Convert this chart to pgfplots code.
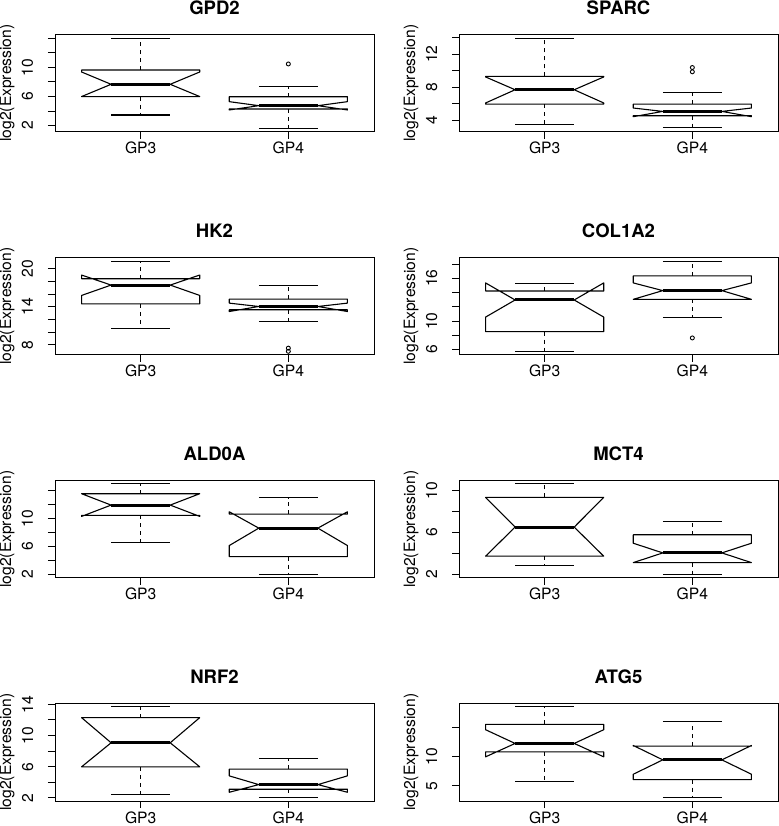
\documentclass[border=0pt]{standalone}
\usepackage{fontspec}
\setmainfont{TeX Gyre Heros}
\usepackage{pgfplots}
\pgfplotsset{compat=1.18}

\pgfplotsset{
  panel/.style={
    scale only axis, width=319bp, height=97.7bp,
    xmin=0.42, xmax=2.58, xtick={1,2}, xticklabels={GP3,GP4},
    xtick pos=bottom, ytick pos=left,
    tick align=outside, major tick length=7bp,
    every tick/.style={black, line width=1bp},
    axis line style={line width=1bp},
    ylabel={log2(Expression)},
    ylabel style={at={(axis description cs:-0.150,0.5)}, anchor=center, font=\fontsize{15.7}{17}\selectfont},
    tick label style={font=\fontsize{15.7}{17}\selectfont},
    xticklabel style={anchor=base, inner sep=0pt, yshift=-15bp},
    yticklabel style={anchor=base, xshift=-15bp, rotate=90},
    title style={font=\bfseries\fontsize{18.6}{20}\selectfont, at={(axis description cs:0.5,1)}, anchor=base, yshift=14bp},
    clip=false,
  },
  bx/.style={black, line width=1.1bp, line join=round},
  md/.style={black, line width=3bp, line cap=butt},
  wk/.style={black, line width=1.1bp, dash pattern=on 4bp off 4bp},
  st/.style={black, line width=1.1bp},
  ol/.style={black, only marks, mark=o, mark size=2bp, mark options={line width=0.9bp}},
}

% args: wlo, q1, notch-lo, median, notch-hi, q3, whi
\newcommand{\definebox}[6]{%
  \expandafter\def\csname #1\endcsname##1##2##3##4##5##6##7{%
    \addplot[bx] coordinates {(#4,##2) (#2,##2) (#2,##3) (#3,##4) (#2,##5) (#2,##6) (#6,##6) (#6,##5) (#5,##4) (#6,##3) (#6,##2) (#4,##2)};
    \addplot[md] coordinates {(#3,##4) (#5,##4)};
    \addplot[wk] coordinates {(#4,##6) (#4,##7)};
    \addplot[wk] coordinates {(#4,##2) (#4,##1)};
    \addplot[st] coordinates {(#3,##7) (#5,##7)};
    \addplot[st] coordinates {(#3,##1) (#5,##1)};
  }}
\definebox{boxA}{0.6}{0.8}{1}{1.2}{1.4}
\definebox{boxB}{1.6}{1.8}{2}{2.2}{2.4}

\begin{document}
\begin{tikzpicture}
\path[use as bounding box] (0,0) rectangle (779bp,826bp);

% Row 1
\begin{axis}[panel, at={(55bp,694bp)}, anchor=south west, title={GPD2},
  ymin=1.13, ymax=14.53, ytick={2,4,...,14}, yticklabels={2,,6,,10,,}]
  \boxA{3.46}{5.98}{5.99}{7.67}{9.36}{9.63}{13.98}
  \boxB{1.63}{4.29}{4.15}{4.74}{5.29}{5.97}{7.35}
  \addplot[ol] coordinates {(2,10.46)};
\end{axis}
\begin{axis}[panel, at={(459bp,694bp)}, anchor=south west, title={SPARC},
  ymin=2.59, ymax=14.41, ytick={4,6,...,14}, yticklabels={4,,8,,12,}]
  \boxA{3.52}{5.97}{6.10}{7.70}{9.25}{9.31}{13.93}
  \boxB{3.08}{4.56}{4.44}{5.08}{5.49}{5.97}{7.34}
  \addplot[ol] coordinates {(2,9.87) (2,10.39)};
\end{axis}

% Row 2
\begin{axis}[panel, at={(55bp,471bp)}, anchor=south west, title={HK2},
  ymin=6.42, ymax=21.79, ytick={8,10,...,20}, yticklabels={8,,,14,,,20}]
  \boxA{10.58}{14.47}{15.79}{17.42}{19.00}{18.42}{21.16}
  \boxB{11.74}{13.53}{13.26}{14.05}{14.58}{15.22}{17.32}
  \addplot[ol] coordinates {(2,7.0) (2,7.5)};
\end{axis}
\begin{axis}[panel, at={(459bp,471bp)}, anchor=south west, title={COL1A2},
  ymin=5.25, ymax=18.94, ytick={6,8,...,18}, yticklabels={6,,10,,,16,}]
  \boxA{5.77}{8.52}{10.56}{12.96}{15.35}{14.22}{15.30}
  \boxB{10.47}{13.05}{13.05}{14.27}{15.35}{16.33}{18.38}
  \addplot[ol] coordinates {(2,7.64)};
\end{axis}

% Row 3
\begin{axis}[panel, at={(55bp,248bp)}, anchor=south west, title={ALD0A},
  ymin=1.52, ymax=15.43, ytick={2,4,...,14}, yticklabels={2,,6,,10,,}]
  \boxA{6.57}{10.43}{10.29}{11.90}{13.52}{13.52}{14.95}
  \boxB{2.00}{4.57}{6.14}{8.62}{10.95}{10.62}{12.95}
\end{axis}
\begin{axis}[panel, at={(459bp,248bp)}, anchor=south west, title={MCT4},
  ymin=1.68, ymax=10.95, ytick={2,4,...,10}, yticklabels={2,,6,,10}]
  \boxA{2.86}{3.75}{3.75}{6.51}{9.33}{9.33}{10.63}
  \boxB{2.00}{3.14}{3.14}{4.06}{4.98}{5.78}{7.08}
\end{axis}

% Row 4
\begin{axis}[panel, at={(55bp,25bp)}, anchor=south west, title={NRF2},
  ymin=1.61, ymax=14.13, ytick={2,4,...,14}, yticklabels={2,,6,,10,,14}]
  \boxA{2.43}{5.99}{5.99}{9.07}{12.29}{12.29}{13.70}
  \boxB{2.04}{3.12}{2.73}{3.71}{4.83}{5.69}{7.10}
\end{axis}
\begin{axis}[panel, at={(459bp,25bp)}, anchor=south west, title={ATG5},
  ymin=2.41, ymax=19.2, ytick={5,10,15}, yticklabels={5,10,}]
  \boxA{5.69}{10.86}{10.00}{12.30}{14.66}{15.57}{18.62}
  \boxB{2.99}{6.09}{7.01}{9.48}{11.95}{11.84}{16.09}
\end{axis}
\end{tikzpicture}
\end{document}
